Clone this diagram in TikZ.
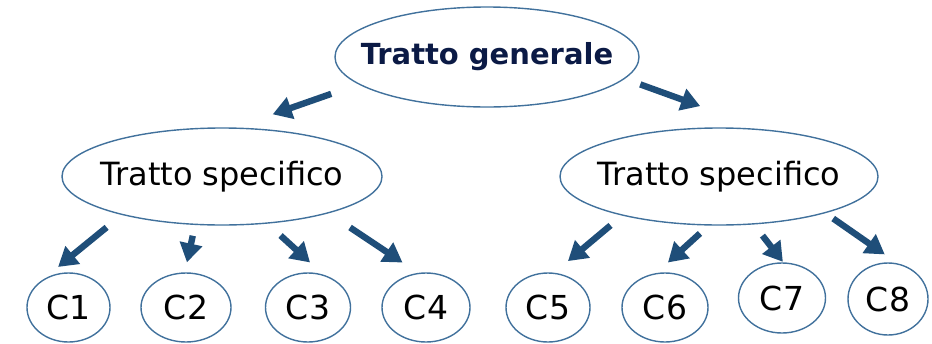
\documentclass[tikz,border=0pt]{standalone}
\usepackage{fontspec}
\setmainfont{DejaVu Sans}
\usetikzlibrary{arrows.meta,shapes.geometric}
\definecolor{arrowblue}{HTML}{1F4E79}
\definecolor{rimblue}{HTML}{41719C}
\definecolor{navytext}{HTML}{0B1A45}
\newcommand{\nowidth}[1]{\makebox[0pt]{#1}}
\tikzset{
  oval/.style={ellipse, draw=rimblue, line width=0.7pt, inner sep=0pt},
  trait/.style={oval, font=\fontsize{16}{19}\selectfont},
  leaf/.style={oval, font=\fontsize{16.5}{19}\selectfont, minimum height=34.5pt},
  arr/.style={-{Triangle[length=9.5pt,width=11pt]}, line width=3.2pt, draw=arrowblue}
}
\begin{document}
\begin{tikzpicture}[x=0.5pt,y=-0.5pt]
				\useasboundingbox (0,0) rectangle (932,343);
				\node (tg) [oval, at={(487,57)}, minimum width=152pt, minimum height=50pt,
				  font=\fontsize{14.5}{17}\selectfont\bfseries, text=navytext]{\nowidth{Tratto generale}};
				\node (sl) [trait, at={(222,176.5)}, minimum width=160pt, minimum height=48.5pt]{\nowidth{Tratto specifico}};
				\node (sr) [trait, at={(719,176.5)}, minimum width=159pt, minimum height=48.5pt]{\nowidth{Tratto specifico}};
				\node (c1) [leaf, at={(68.5,307.5)}, minimum width=41.5pt]{C1};
				\node (c2) [leaf, at={(186,307.5)}, minimum width=45pt]{C2};
				\node (c3) [leaf, at={(308,307.5)}, minimum width=42.5pt]{C3};
				\node (c4) [leaf, at={(426,307.5)}, minimum width=44pt]{C4};
				\node (c5) [leaf, at={(548,307.5)}, minimum width=42pt]{C5};
				\node (c6) [leaf, at={(665,307.5)}, minimum width=43pt]{C6};
				\node (c7) [leaf, at={(782,298)}, minimum width=43.5pt, minimum height=35pt]{C7};
				\node (c8) [leaf, at={(888,299)}, minimum width=40pt, minimum height=36pt]{C8};
				%arrows
				\draw[arr, shorten <=14.4pt, shorten >=19.9pt] (tg.192) -- (sl.75);
				\draw[arr, shorten <=8.2pt, shorten >=34.2pt] (tg.351) -- (sr.46);
				\draw[arr, shorten <=9.8pt, shorten >=10.7pt] (sl.201) -- (c1.135);
				\draw[arr, shorten <=5.5pt, shorten >=5.1pt] (sl.241) -- (c2.92);
				\draw[arr, shorten <=8.8pt, shorten >=9pt] (sl.314) -- (c3.65);
				\draw[arr, shorten <=12.8pt, shorten >=9.3pt] (sl.341) -- (c4.103);
				\draw[arr, shorten <=7.6pt, shorten >=9pt] (sr.202) -- (c5.80);
				\draw[arr, shorten <=5.8pt, shorten >=7.8pt] (sr.258) -- (c6.104);
				\draw[arr, shorten <=7pt, shorten >=0.3pt] (sr.306) -- (c7.88);
				\draw[arr, shorten <=4.7pt, shorten >=7.8pt] (sr.341) -- (c8.75);
\end{tikzpicture}
\end{document}
